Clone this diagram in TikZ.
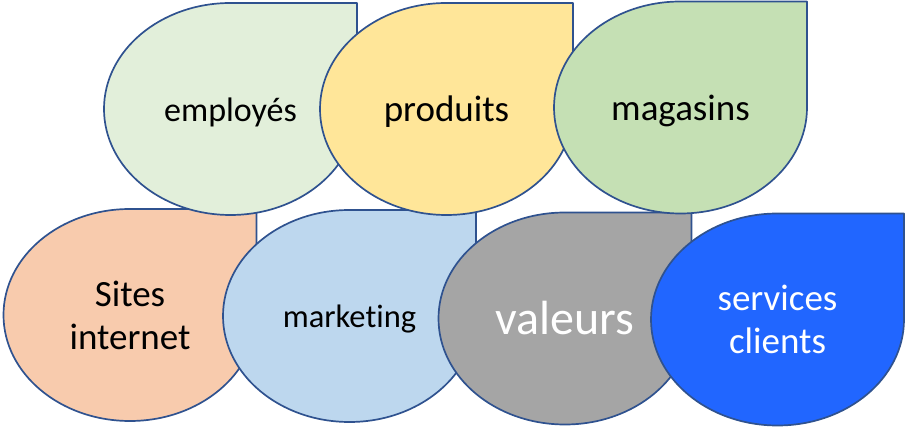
\documentclass[tikz,border=0pt]{standalone}
\usepackage{fontspec}
\setmainfont{Carlito}[Ligatures=NoCommon]
\usetikzlibrary{positioning}

\definecolor{dropedge}{HTML}{2F528F}
\definecolor{empfill}{HTML}{E2EFDA}
\definecolor{prodfill}{HTML}{FFE699}
\definecolor{magfill}{HTML}{C5E0B4}
\definecolor{sitefill}{HTML}{F8CBAD}
\definecolor{markfill}{HTML}{BDD7EE}
\definecolor{valfill}{HTML}{A5A5A5}
\definecolor{servfill}{HTML}{2166FF}

% #1 name, #2 centre, #3 fill, #4 text options, #5 text
\newcommand{\drop}[5]{%
    \draw [dropline, fill=#3] (#2) ++(0,106) -- ++(126.5,0) -- ++(0,-106)
        arc [start angle=0, end angle=-270, x radius=126.5, y radius=106] -- cycle;
    \node [droptext, #4] (#1) at (#2) {#5};
}

\begin{document}
\begin{tikzpicture}[
    x=1pt, y=1pt,
    % Styles
    dropline/.style={% For the drop outlines
        draw=dropedge,
        line width=1.7pt,
        line join=round,
    },
    droptext/.style={% For the labels
        align=center,
        inner sep=0pt,
        text=black,
    },
    big/.style={font=\fontsize{37}{43}\selectfont},
    mid/.style={font=\fontsize{34}{40}\selectfont},
    small/.style={font=\fontsize{32.5}{38}\selectfont},
    huge/.style={font=\fontsize{48}{56}\selectfont},
    ]

    \useasboundingbox (0,0) rectangle (905,428);

    % Bottom row
    \drop{site}{130,113}{sitefill}{big}{Sites\\internet}
    \drop{mark}{349.5,112}{markfill}{small, yshift=-3}{marketing}
    \drop{val}{565,109.5}{valfill}{huge, text=white}{valeurs}
    \drop{serv}{777.5,108.5}{servfill}{big, text=white}{services\\clients}

    % Top row
    \drop{emp}{230.5,319}{empfill}{mid, yshift=-3}{employés}
    \drop{prod}{446.5,319}{prodfill}{big, yshift=-3}{produits}
    \drop{mag}{680.5,320.5}{magfill}{big, yshift=-3}{magasins}

\end{tikzpicture}
\end{document}
